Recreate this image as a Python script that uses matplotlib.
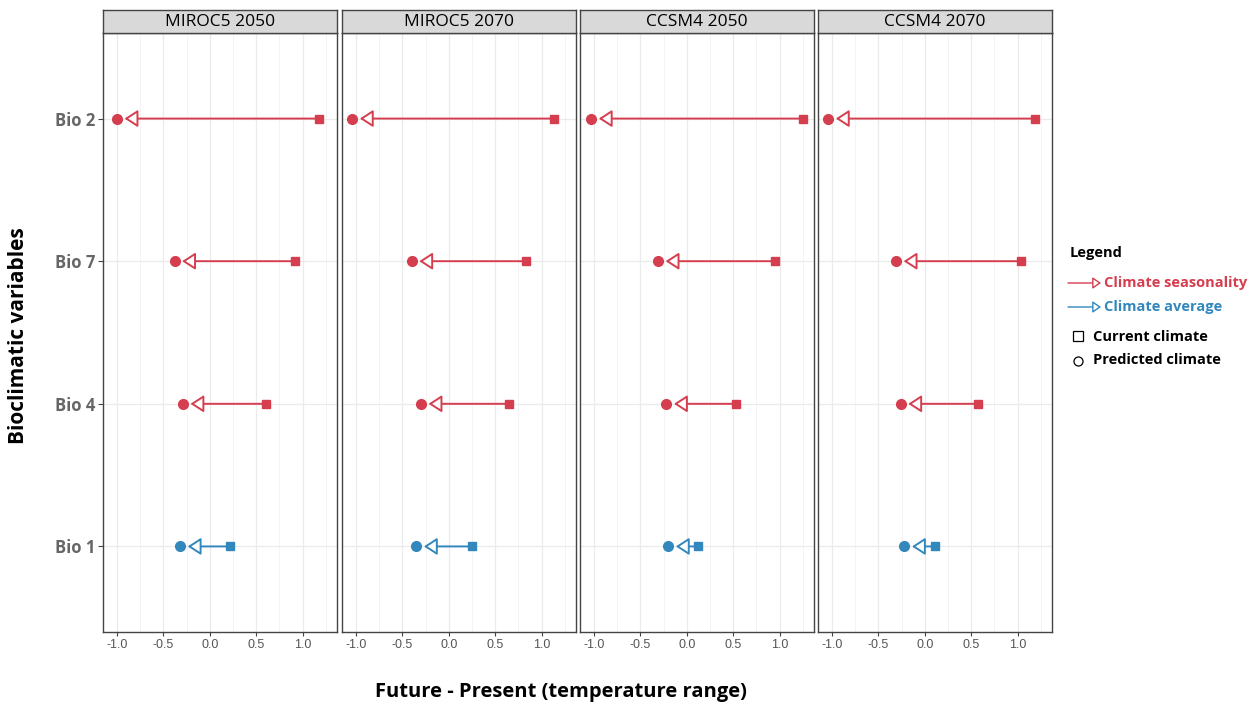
import matplotlib
matplotlib.use("Agg")
from matplotlib import pyplot as plt
from matplotlib.patches import FancyArrowPatch
from matplotlib.lines import Line2D

plt.rcParams['font.family'] = ['Open Sans', 'DejaVu Sans']

# facets
models = ["MIROC5 2050", "MIROC5 2070", "CCSM4 2050", "CCSM4 2070"]
bio_labels = ["Bio 1", "Bio 4", "Bio 7", "Bio 2"]
x_ticks = [-1.0, -0.5, 0.0, 0.5, 1.0]

# values per variable, one per facet (current -> predicted)
bio1_current = [0.22, 0.25, 0.12, 0.11]
bio1_predicted = [-0.32, -0.35, -0.20, -0.22]
bio4_current = [0.60, 0.65, 0.53, 0.57]
bio4_predicted = [-0.29, -0.30, -0.22, -0.26]
bio7_current = [0.92, 0.83, 0.945, 1.04]
bio7_predicted = [-0.38, -0.40, -0.31, -0.31]
bio2_current = [1.18, 1.13, 1.25, 1.19]
bio2_predicted = [-1.00, -1.04, -1.03, -1.04]

red = "#D53E4F"
blue = "#3288BD"
bio_colors = [blue, red, red, red]

currents = [bio1_current, bio4_current, bio7_current, bio2_current]
predicteds = [bio1_predicted, bio4_predicted, bio7_predicted, bio2_predicted]

W, H = 1258, 707
fig = plt.figure(figsize=(W / 100, H / 100), dpi=100)

def px_axes(x0, y0, x1, y1):
    # pixel box (top-left origin) -> figure axes
    return fig.add_axes([x0 / W, 1 - y1 / H, (x1 - x0) / W, (y1 - y0) / H])

panel_left = [103, 342, 580, 818]
panel_w = 234
top_strip, top_panel, bottom_panel = 10, 33, 632

for k, name in enumerate(models):
    x0 = panel_left[k]
    ax = px_axes(x0, top_panel, x0 + panel_w, bottom_panel)
    ax.set_xlim(-1.15, 1.37)
    ax.set_ylim(0.4, 4.6)
    ax.set_xticks(x_ticks)
    ax.set_xticks([-0.75, -0.25, 0.25, 0.75, 1.25], minor=True)
    ax.set_xticklabels([f"{t:.1f}" for t in x_ticks], family="Liberation Sans",
                       fontsize=9, color="#555555")
    ax.set_yticks([1, 2, 3, 4])
    if k == 0:
        ax.set_yticklabels(bio_labels, fontsize=12, fontweight="bold", color="#666666")
        ax.tick_params(axis="y", length=3.5, width=0.8, color="#444444", pad=2)
    else:
        ax.set_yticklabels([])
        ax.tick_params(axis="y", length=0)
    ax.tick_params(axis="x", length=3, width=0.8, color="#444444", pad=2)
    ax.tick_params(axis="x", which="minor", length=0)
    ax.grid(True, which="major", color="#EBEBEB", lw=0.9)
    ax.grid(True, which="minor", axis="x", color="#F2F2F2", lw=0.6)
    ax.set_axisbelow(True)
    for s in ax.spines.values():
        s.set_color("#444444")
        s.set_linewidth(1.0)

    for i in range(4):
        y = i + 1
        c = bio_colors[i]
        cur = currents[i][k]
        pred = predicteds[i][k]
        arr = FancyArrowPatch((cur, y), (pred, y),
                              arrowstyle="-|>,head_length=8,head_width=5.2",
                              mutation_scale=1, shrinkA=0, shrinkB=5.5,
                              color=c, lw=1.4, zorder=3)
        arr.set_facecolor("white")
        arr.set_edgecolor(c)
        ax.add_patch(arr)
        ax.plot([cur], [y], marker="s", ms=5.8, color=c, mec=c, zorder=4)
        ax.plot([pred], [y], marker="o", ms=7, color=c, mec=c, zorder=4)

    # facet strip
    sax = px_axes(x0, top_strip, x0 + panel_w, top_panel)
    sax.set_facecolor("#D9D9D9")
    sax.set_xticks([])
    sax.set_yticks([])
    for s in sax.spines.values():
        s.set_color("#444444")
        s.set_linewidth(1.0)
    sax.text(0.5, 0.5, name, ha="center", va="center", fontsize=12.5, color="black",
             transform=sax.transAxes)

# axis titles
fig.text(561 / W, 1 - 692 / H, "Future - Present (temperature range)",
         ha="center", va="center", fontsize=14.5, fontweight="bold")
fig.text(19 / W, 1 - 336 / H, "Bioclimatic variables", ha="center", va="center",
         rotation=90, fontsize=15, fontweight="bold")

# legend
fig.text(1070 / W, 1 - 253 / H, "Legend", ha="left", va="center",
         fontsize=10.5, fontweight="bold")
for yy, lab, c in [(283, "Climate seasonality", red), (307, "Climate average", blue)]:
    la = FancyArrowPatch((1068 / W, 1 - yy / H), (1101 / W, 1 - yy / H),
                         transform=fig.transFigure,
                         arrowstyle="-|>,head_length=5,head_width=3.5",
                         mutation_scale=1, shrinkA=0, shrinkB=0, lw=1.0, color=c)
    la.set_facecolor("white")
    la.set_edgecolor(c)
    fig.add_artist(la)
    fig.text(1104 / W, 1 - yy / H, lab, ha="left", va="center", fontsize=10.5,
             fontweight="bold", color=c)
fig.add_artist(Line2D([1078 / W], [1 - 336 / H], marker="s", ms=7, mfc="white",
                      mec="black", mew=0.9, transform=fig.transFigure))
fig.text(1093 / W, 1 - 337 / H, "Current climate", ha="left", va="center", fontsize=10.5,
         fontweight="bold")
fig.add_artist(Line2D([1078 / W], [1 - 361 / H], marker="o", ms=6.5, mfc="white",
                      mec="black", mew=0.9, transform=fig.transFigure))
fig.text(1093 / W, 1 - 360 / H, "Predicted climate", ha="left", va="center", fontsize=10.5,
         fontweight="bold")

fig.savefig("out.png", dpi=100, facecolor="white")
